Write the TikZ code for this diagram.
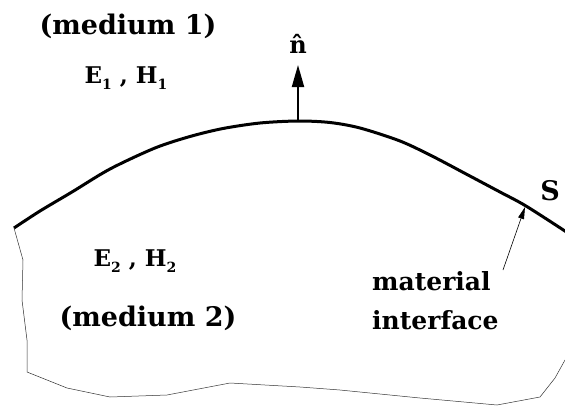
\documentclass[tikz,border=0pt]{standalone}
\usepackage{fontspec}
\setmainfont{DejaVu Serif}
\usetikzlibrary{arrows.meta}
\newcommand\sbs[1]{\raisebox{-0.45ex}{\fontsize{14}{14}\selectfont #1}}
\begin{document}
\begin{tikzpicture}[x=1pt,y=-1pt,
  lbl/.style={font=\bfseries\fontsize{27}{30}\selectfont, inner sep=0pt},
  fld/.style={font=\bfseries\fontsize{23}{24}\selectfont, inner sep=0pt},
  surf/.style={line width=3pt},
  edge/.style={line width=0.5pt, black!80},
  ptr/.style={line width=0.6pt, -{Triangle[length=12pt,width=6pt]}}]
\useasboundingbox (0,0) rectangle (565,407);
% interface S
\draw[surf] plot[smooth, tension=0.5] coordinates {(14,228) (40,211) (72,192) (110,169) (155,148) (190,136.5) (223,128.5) (260,123) (298,121) (330,122.5) (360,128) (400,141) (432,156) (468,175) (500,192) (526,206) (568,233)};
% outer boundary of medium 2
\draw[edge] (14,228) -- (23,260) -- (22,300) -- (27,340) -- (27,372) -- (67,388) -- (110,397) -- (167,395) -- (230,383) -- (300,387) -- (340,390) -- (420,398) -- (497,405) -- (540,397) -- (555,378) -- (565,360);
% normal
\coordinate (base) at (298,121);
\coordinate (tip) at (298,65);
\draw[line width=2pt, -{Triangle[length=22pt,width=12pt]}] (base) -- (tip);
\node[lbl, font=\bfseries\fontsize{24}{26}\selectfont] (n) at (298,44) {\^{n}};
\node[lbl] (m1) at (128,26) {(medium 1)};
\node[fld] (f1) at (126,78) {E\sbs{1} , H\sbs{1}};
\node[fld] (f2) at (135,261) {E\sbs{2} , H\sbs{2}};
\node[lbl] (m2) at (148,318) {(medium 2)};
\node[lbl, font=\bfseries\fontsize{27}{28}\selectfont] (S) at (550,191) {S};
\node[lbl, font=\bfseries\fontsize{25}{28}\selectfont, anchor=west] (mat) at (372,281) {material};
\node[lbl, font=\bfseries\fontsize{25}{28}\selectfont, anchor=west] (int) at (372,320) {interface};
\coordinate (pt) at (525,207);
\coordinate (tail) at (503,270);
\draw[ptr] (tail) -- (pt);
\end{tikzpicture}
\end{document}
